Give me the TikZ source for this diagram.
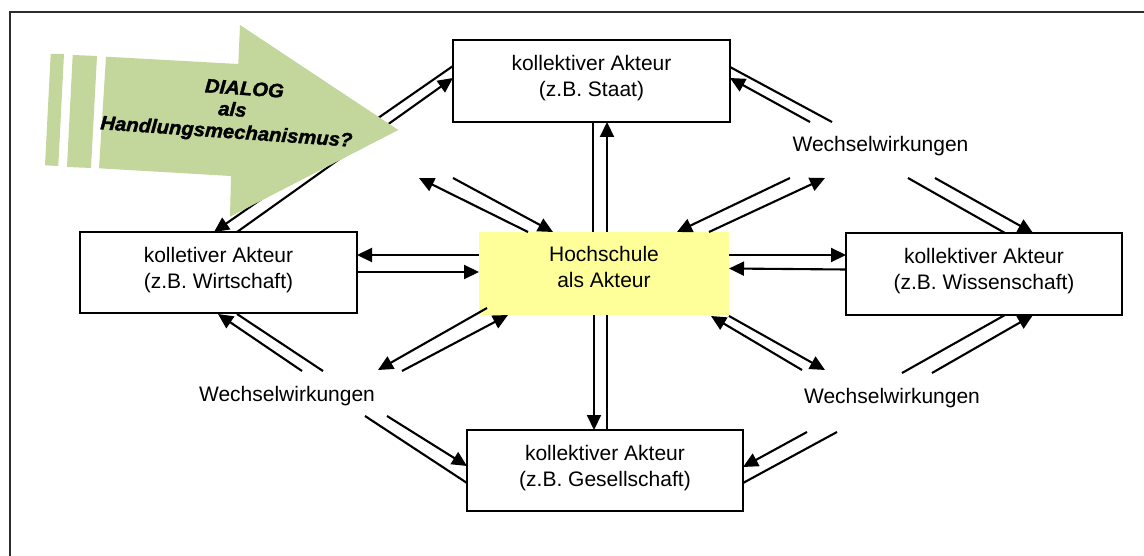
\documentclass[tikz,border=0pt]{standalone}
\usepackage{fontspec}
\setmainfont{Liberation Sans}
\newfontfamily\dialogfont[FakeBold=1.6]{Liberation Sans Bold Italic}
\usetikzlibrary{arrows.meta,calc}
\definecolor{dialoggreen}{RGB}{195,214,155}
\definecolor{hsyellow}{RGB}{255,255,153}
\definecolor{framegray}{RGB}{45,45,45}
\begin{document}
\begin{tikzpicture}[x=1pt,y=-1pt,
  actor/.style={draw, line width=1.6pt, inner sep=0pt, outer sep=0pt},
  hsbox/.style={fill=hsyellow, inner sep=0pt, outer sep=0pt},
  boxtext/.style={anchor=north, align=center, inner sep=0pt, font=\fontsize{21}{25.7}\selectfont},
  wwlabel/.style={anchor=base, inner sep=0pt, font=\fontsize{21}{25.7}\selectfont},
  link/.style={line width=2.1pt},
  arrowed/.style={link, -{Triangle[length=15pt,width=14pt]}},
  dialogtext/.style={anchor=base, inner sep=0pt, rotate=-4, xscale=1.04,
    font=\fontsize{19.5}{22}\dialogfont}
]
\useasboundingbox (0,0) rectangle (1144,556);

% outer frame (only its top and left edges fall on the page)
\draw[framegray, line width=2pt] (9.5,556) -- (9.5,12.5) -- (1144,12.5);

% actors
\node[actor, minimum width=277pt, minimum height=82pt] (staat) at (591.5,81) {};
\node[actor, minimum width=277pt, minimum height=81pt] (wirt) at (218.5,272.5) {};
\node[hsbox, minimum width=250pt, minimum height=83pt] (hoch) at (604,273.5) {};
\node[actor, minimum width=276pt, minimum height=82pt] (wiss) at (984,274) {};
\node[actor, minimum width=276pt, minimum height=81pt] (gesell) at (605,470.5) {};

\node[boxtext] (staat-t) at ($(staat.north)+(0,15.5)$) {kollektiver Akteur\\(z.B. Staat)};
\node[boxtext] (wirt-t) at ($(wirt.north)+(0,15.5)$) {kolletiver Akteur\\(z.B. Wirtschaft)};
\node[boxtext] (hoch-t) at ($(hoch.north)+(0,14.5)$) {Hochschule\\als Akteur};
\node[boxtext] (wiss-t) at ($(wiss.north)+(0,15.5)$) {kollektiver Akteur\\(z.B. Wissenschaft)};
\node[boxtext] (gesell-t) at ($(gesell.north)+(0,15.5)$) {kollektiver Akteur\\(z.B. Gesellschaft)};

% interaction labels
\node[wwlabel] (w1) at (880.5,151.7) {Wechselwirkungen};
\node[wwlabel] (w2) at (287,401.7) {Wechselwirkungen};
\node[wwlabel] (w3) at (892,403.3) {Wechselwirkungen};

% free ends of the connectors
\coordinate (ul1) at (453,178);
\coordinate (ul2) at (419,178);
\coordinate (ur1) at (790,178);
\coordinate (ur2) at (825,178);
\coordinate (ll1) at (378,370);
\coordinate (ll2) at (402,371);
\coordinate (lr1) at (802,370);
\coordinate (lr2) at (825,370);
\coordinate (w1a) at (832,122);
\coordinate (w1b) at (810,122);
\coordinate (w1c) at (908,178);
\coordinate (w1d) at (935,178);
\coordinate (w2a) at (302,371);
\coordinate (w2b) at (323,371);
\coordinate (w2c) at (365,416);
\coordinate (w2d) at (387,416);
\coordinate (w3a) at (902,373);
\coordinate (w3b) at (932,373);
\coordinate (w3c) at (807,432);
\coordinate (w3d) at (837,432);

% Staat -- Wirtschaft
\draw[arrowed] ($(staat.north west)+(0,26)$) -- ($(wirt.north west)+(134,0)$);
\draw[arrowed] ($(wirt.north west)+(157,0)$) -- ($(staat.north west)+(0,38)$);

% Hochschule -- Staat
\draw[link] ($(hoch.north west)+(114,0)$) -- ($(staat.south west)+(140,0)$);
\draw[arrowed] ($(hoch.north west)+(128,0)$) -- ($(staat.south west)+(154,0)$);

% Hochschule -- Gesellschaft
\draw[arrowed] ($(hoch.south west)+(115,0)$) -- ($(gesell.north west)+(127,0)$);
\draw[link] ($(gesell.north west)+(140,0)$) -- ($(hoch.south west)+(128,0)$);

% Hochschule -- Wirtschaft
\draw[arrowed] ($(hoch.north west)+(0,23)$) -- ($(wirt.north east)+(0,23)$);
\draw[arrowed] ($(wirt.north east)+(0,40)$) -- ($(hoch.north west)+(0,40)$);

% Hochschule -- Wissenschaft
\draw[arrowed] ($(hoch.north east)+(0,23)$) -- ($(wiss.north west)+(0,22)$);
\draw[arrowed] ($(wiss.north west)+(0,36.5)$) -- ($(hoch.north east)+(0,36.5)$);

% Hochschule diagonals
\draw[arrowed] (ul1) -- ($(hoch.north west)+(74,0)$);
\draw[arrowed] ($(hoch.north west)+(49,0)$) -- (ul2);
\draw[arrowed] (ur1) -- ($(hoch.north west)+(198,0)$);
\draw[arrowed] ($(hoch.north west)+(230,0)$) -- (ur2);
\draw[arrowed] ($(hoch.south west)+(8,-7)$) -- (ll1);
\draw[arrowed] (ll2) -- ($(hoch.south west)+(29,0)$);
\draw[arrowed] (lr1) -- ($(hoch.south west)+(232,1)$);
\draw[arrowed] ($(hoch.south east)+(0,1)$) -- (lr2);

% Staat -- Wissenschaft
\draw[link] ($(staat.north east)+(0,27)$) -- (w1a);
\draw[arrowed] (w1b) -- ($(staat.north east)+(0,38)$);
\draw[link] (w1c) -- ($(wiss.north west)+(159,0)$);
\draw[arrowed] (w1d) -- ($(wiss.north west)+(187,0)$);

% Wirtschaft -- Gesellschaft
\draw[arrowed] (w2a) -- ($(wirt.south west)+(138,1)$);
\draw[link] (w2b) -- ($(wirt.south west)+(157,1)$);
\draw[link] (w2c) -- ($(gesell.north west)+(0,53)$);
\draw[arrowed] (w2d) -- ($(gesell.north west)+(0,36)$);

% Wissenschaft -- Gesellschaft
\draw[link] (w3a) -- ($(wiss.south west)+(159,0)$);
\draw[arrowed] (w3b) -- ($(wiss.south west)+(187,0)$);
\draw[arrowed] (w3c) -- ($(gesell.north east)+(0,37)$);
\draw[link] (w3d) -- ($(gesell.north east)+(0,53)$);

% the dialogue arrow with its two stripes
\fill[dialoggreen] (50.7,54) -- (64,54) -- (58.3,166) -- (45,165.3) -- cycle;
\fill[dialoggreen] (72.7,55) -- (97,56) -- (91,168) -- (67,167) -- cycle;
\fill[dialoggreen] (106,56.7) -- (238.3,64) -- (240,25) -- (398.3,130)
  -- (230,216.7) -- (231,176) -- (99,168.3) -- cycle;
\node[dialogtext] (dlg1) at (244,95) {DIALOG};
\node[dialogtext] (dlg2) at (232,116) {als};
\node[dialogtext] (dlg3) at (226,138) {Handlungsmechanismus?};
\end{tikzpicture}
\end{document}
